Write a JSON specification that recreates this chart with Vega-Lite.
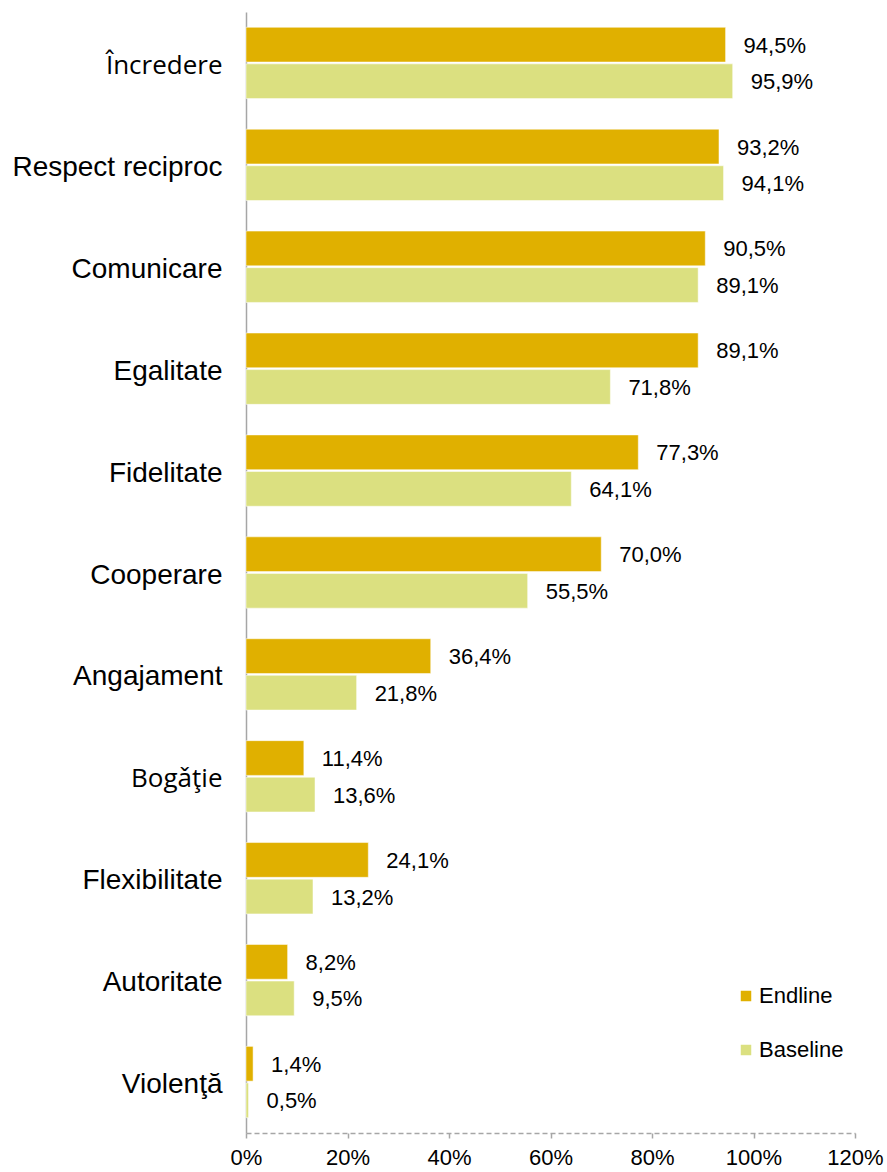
{
  "$schema": "https://vega.github.io/schema/vega-lite/v6.json",
  "width": 609,
  "height": 1121,
  "autosize": {"type": "none"},
  "padding": {"left": 246, "top": 12, "right": 32, "bottom": 39},
  "background": "white",
  "config": {
    "view": {"stroke": null},
    "font": "Liberation Sans"
  },
  "data": {
    "values": [
      {"cat": "Încredere", "series": "Endline", "value": 94.5, "label": "94,5%"},
      {"cat": "Încredere", "series": "Baseline", "value": 95.9, "label": "95,9%"},
      {"cat": "Respect reciproc", "series": "Endline", "value": 93.2, "label": "93,2%"},
      {"cat": "Respect reciproc", "series": "Baseline", "value": 94.1, "label": "94,1%"},
      {"cat": "Comunicare", "series": "Endline", "value": 90.5, "label": "90,5%"},
      {"cat": "Comunicare", "series": "Baseline", "value": 89.1, "label": "89,1%"},
      {"cat": "Egalitate", "series": "Endline", "value": 89.1, "label": "89,1%"},
      {"cat": "Egalitate", "series": "Baseline", "value": 71.8, "label": "71,8%"},
      {"cat": "Fidelitate", "series": "Endline", "value": 77.3, "label": "77,3%"},
      {"cat": "Fidelitate", "series": "Baseline", "value": 64.1, "label": "64,1%"},
      {"cat": "Cooperare", "series": "Endline", "value": 70.0, "label": "70,0%"},
      {"cat": "Cooperare", "series": "Baseline", "value": 55.5, "label": "55,5%"},
      {"cat": "Angajament", "series": "Endline", "value": 36.4, "label": "36,4%"},
      {"cat": "Angajament", "series": "Baseline", "value": 21.8, "label": "21,8%"},
      {"cat": "Bogǎţie", "series": "Endline", "value": 11.4, "label": "11,4%"},
      {"cat": "Bogǎţie", "series": "Baseline", "value": 13.6, "label": "13,6%"},
      {"cat": "Flexibilitate", "series": "Endline", "value": 24.1, "label": "24,1%"},
      {"cat": "Flexibilitate", "series": "Baseline", "value": 13.2, "label": "13,2%"},
      {"cat": "Autoritate", "series": "Endline", "value": 8.2, "label": "8,2%"},
      {"cat": "Autoritate", "series": "Baseline", "value": 9.5, "label": "9,5%"},
      {"cat": "Violenţă", "series": "Endline", "value": 1.4, "label": "1,4%"},
      {"cat": "Violenţă", "series": "Baseline", "value": 0.5, "label": "0,5%"}
    ]
  },
  "encoding": {
    "y": {
      "field": "cat",
      "type": "nominal",
      "sort": null,
      "title": null,
      "scale": {"paddingInner": 0.3, "paddingOuter": 0.15},
      "axis": {
        "ticks": false,
        "domainColor": "#A6A6A6",
        "domainWidth": 1.5,
        "labelFontSize": {"condition": {"test": "datum.value == 'Încredere' || datum.value == 'Bogǎţie'", "value": 26}, "value": 28},
        "labelColor": "#000000",
        "labelPadding": 24,
        "labelOffset": 3,
        "labelLimit": 400,
        "labelFont": {"condition": {"test": "datum.value == 'Încredere' || datum.value == 'Bogǎţie'", "value": "Open Sans"}, "value": "Liberation Sans"}
      }
    },
    "yOffset": {
      "field": "series",
      "type": "nominal",
      "sort": ["Endline", "Baseline"],
      "scale": {"paddingInner": 0.05}
    },
    "x": {
      "field": "value",
      "type": "quantitative",
      "title": null,
      "scale": {"domain": [0, 120], "nice": false},
      "axis": {
        "values": [0, 20, 40, 60, 80, 100, 120],
        "labelExpr": "datum.value + '%'",
        "labelFlush": false,
        "grid": false,
        "domainColor": "#A6A6A6",
        "domainDash": [5, 3],
        "domainWidth": 1.5,
        "tickColor": "#A6A6A6",
        "tickSize": 5,
        "tickWidth": 1.5,
        "labelFontSize": 22,
        "labelColor": "#000000",
        "labelPadding": 9
      }
    }
  },
  "layer": [
    {
      "mark": {"type": "bar", "stroke": "white", "strokeOpacity": 0.5, "strokeWidth": 1},
      "encoding": {
        "color": {
          "field": "series",
          "type": "nominal",
          "scale": {"domain": ["Endline", "Baseline"], "range": ["#E0B000", "#DBE080"]},
          "legend": {
            "title": null,
            "orient": "none",
            "legendX": 489,
            "legendY": 973,
            "padding": 0,
            "symbolType": "square",
            "symbolSize": 110,
            "symbolStrokeWidth": 0,
            "labelFontSize": 22,
            "labelColor": "#000000",
            "labelOffset": 2,
            "rowPadding": 32
          }
        }
      }
    },
    {
      "mark": {"type": "text", "align": "left", "baseline": "middle", "dx": 18, "dy": 1, "fontSize": 22, "color": "#000000"},
      "encoding": {
        "text": {"field": "label"}
      }
    }
  ]
}
